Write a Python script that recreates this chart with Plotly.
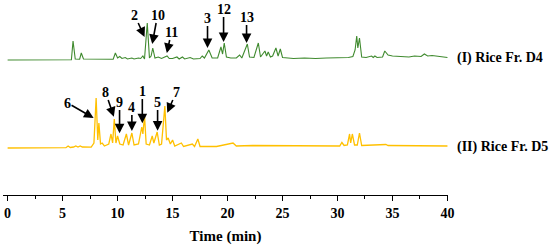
import plotly.graph_objects as go

# ---- data ----
# Trace I: Rice Fr. D4 (time in min, relative intensity)
d4_time = [0, 5.8, 5.95, 6.15, 6.55, 6.7, 6.9, 9.6, 9.8, 10.0, 10.2, 10.4, 10.7, 10.9, 11.3, 11.5,
           11.9, 12.1, 12.3, 12.45, 12.7, 12.9, 13.05, 13.2, 13.4, 13.7, 14.0, 14.5, 14.7, 15.0,
           15.4, 15.6, 15.9, 16.1, 16.6, 16.9, 17.5, 17.7, 17.9, 18.3, 18.6, 19.1, 19.4, 19.55,
           19.7, 19.9, 20.3, 20.8, 21.1, 21.3, 21.8, 22.0, 22.4, 22.8, 23.0, 23.4, 23.55, 23.7,
           23.9, 24.1, 24.4, 24.6, 24.8, 25.0, 25.5, 26, 27, 28, 29, 30, 31.0, 31.4, 31.6, 31.75,
           31.85, 32.0, 32.2, 32.6, 33.1, 33.25, 33.4, 33.6, 34.1, 34.3, 34.6, 35, 35.5, 36, 36.5,
           37, 37.6, 37.9, 38.2, 38.6, 38.9, 39.3, 39.7, 40]
d4_int = [0, 0.3, 19, 1, 0.8, 7, 1, 0.8, 7, 2, 3.5, 1.5, 2.5, 1, 2, 1,
          2, 1.5, 4, 1, 37, 2, 4, 12, 2, 3, 1.5, 4, 1.5, 1.5,
          3, 1, 3, 1, 2.5, 1, 1.5, 4, 2, 10, 2, 2, 13, 6,
          17, 3, 2, 2, 5, 2, 16, 3, 2.5, 17, 3, 9, 4, 8,
          3, 4, 12, 4, 11, 2.5, 2, 1.5, 2, 1.5, 2, 2, 2.5, 3.5, 10, 24,
          12, 22, 3, 2.5, 4, 2.5, 4, 2.5, 3, 9, 5, 4, 3.5, 3.5, 3,
          4, 3.5, 6, 4, 4.5, 4, 3.5, 3, 2.5]

# Trace II: Rice Fr. D5
d5_time = [0, 5.3, 5.5, 5.7, 6.0, 6.2, 6.4, 6.6, 6.8, 7.6, 7.85, 8.05, 8.2, 8.3, 8.45, 8.6, 8.8,
           9.2, 9.4, 9.55, 9.7, 9.85, 10.0, 10.2, 10.5, 10.8, 11.0, 11.3, 11.5, 11.9, 12.2, 12.3,
           12.45, 12.6, 12.9, 13.15, 13.3, 13.6, 13.8, 14.0, 14.3, 14.45, 14.6, 14.8, 15.0, 15.2,
           15.8, 16.0, 16.8, 17.0, 17.3, 17.5, 18, 19, 20.5, 20.8, 22.3, 23.4, 25, 27, 29, 30.2,
           30.4, 30.6, 30.9, 31.1, 31.2, 31.35, 31.55, 31.8, 32.0, 32.2, 34.4, 34.6, 40]
d5_int = [0, 0.3, 2, 0.5, 1, 2, 1, 2, 1, 0.8, 5, 50, 8, 25, 4, 5, 2,
          4, 14, 5, 29, 5, 12, 4, 3, 14, 3, 15, 3, 4, 21, 14,
          32, 4, 3, 12, 5, 16, 3, 4, 42, 8, 10, 4, 8, 2,
          5, 1.5, 4, 1.5, 9, 1.5, 1.5, 1.5, 5, 2, 2.5, 2.5, 2, 2, 2, 2,
          5.5, 2.5, 3, 14, 5, 14, 3, 3, 15, 2.5, 3.5, 2.5, 2]

# Peak labels: (label, arrow tip time, arrow tip intensity, label time, label intensity)
d4_peaks = ["2", "10", "11", "3", "12", "13"]
d4_tip_t = [12.45, 13.15, 14.48, 18.18, 19.64, 21.73]
d4_tip_i = [23, 16, 7, 12, 18, 17]
d4_lab_t = [11.55, 13.64, 14.9, 18.18, 19.64, 21.73]
d4_lab_i = [45, 45, 28, 42, 51, 43]

d5_peaks = ["6", "8", "9", "4", "1", "5", "7"]
d5_tip_t = [7.82, 9.66, 10.18, 11.3, 12.25, 13.64, 14.52]
d5_tip_i = [30, 31.3, 14.7, 17, 24.7, 17.3, 35.3]
d5_lab_t = [5.45, 8.9, 10.18, 11.3, 12.25, 13.64, 15.34]
d5_lab_i = [45, 56, 46, 41, 57, 46, 56]

series_names = ["(I) Rice Fr. D4", "(II) Rice Fr. D5"]
x_ticks = [0, 5, 10, 15, 20, 25, 30, 35, 40]
x_title = "Time (min)"

# ---- layout constants ----
OFF_D4 = 135   # vertical offset of trace I (plot units = px)
OFF_D5 = 47    # vertical offset of trace II
GREEN = "#3f8a2e"
YELLOW = "#ffc000"
FONT = "Liberation Serif"

fig = go.Figure()
fig.add_trace(go.Scatter(x=d4_time, y=[v + OFF_D4 for v in d4_int], mode="lines",
                         line=dict(color=GREEN, width=1.1), showlegend=False, hoverinfo="skip"))
fig.add_trace(go.Scatter(x=d5_time, y=[v + OFF_D5 for v in d5_int], mode="lines",
                         line=dict(color=YELLOW, width=1.3), showlegend=False, hoverinfo="skip"))

anns = []
def add_peaks(names, tt, ti, lt, li, off):
    for n, a, b, c, d in zip(names, tt, ti, lt, li):
        anns.append(dict(x=a, y=b + off, ax=c, ay=d + off, xref="x", yref="y",
                         axref="x", ayref="y", text="<b>%s</b>" % n, showarrow=True,
                         arrowhead=2, arrowsize=1.2, arrowwidth=1.6, arrowcolor="black",
                         font=dict(family=FONT, size=14, color="black"),
                         borderpad=0))

add_peaks(d4_peaks, d4_tip_t, d4_tip_i, d4_lab_t, d4_lab_i, OFF_D4)
add_peaks(d5_peaks, d5_tip_t, d5_tip_i, d5_lab_t, d5_lab_i, OFF_D5)

for name, yy in zip(series_names, [OFF_D4 + 2, OFF_D5 + 1]):
    anns.append(dict(x=1.016, y=yy, xref="paper", yref="y", text="<b>%s</b>" % name,
                     showarrow=False, xanchor="left", yanchor="middle",
                     font=dict(family=FONT, size=14, color="black")))

fig.update_layout(
    width=550, height=248,
    margin=dict(l=3, r=102, t=0, b=53),
    paper_bgcolor="white", plot_bgcolor="white",
    annotations=anns,
    xaxis=dict(range=[-0.42, 40.05], tickvals=x_ticks, ticktext=[str(v) for v in x_ticks],
               showline=True, linecolor="black", linewidth=1.3, ticks="outside",
               ticklen=5, tickwidth=1.3, tickcolor="black", showgrid=False, zeroline=False,
               tickfont=dict(family=FONT, size=14, color="black", weight="bold"),
               minor=dict(dtick=2.5, tick0=0, ticks="outside", ticklen=3, tickwidth=1.2,
                          tickcolor="black", showgrid=False),
               title=dict(text="<b>%s</b>" % x_title, standoff=10,
                          font=dict(family=FONT, size=15, color="black"))),
    yaxis=dict(range=[0, 195], visible=False, showgrid=False, zeroline=False),
)

fig.write_html("out.html")
